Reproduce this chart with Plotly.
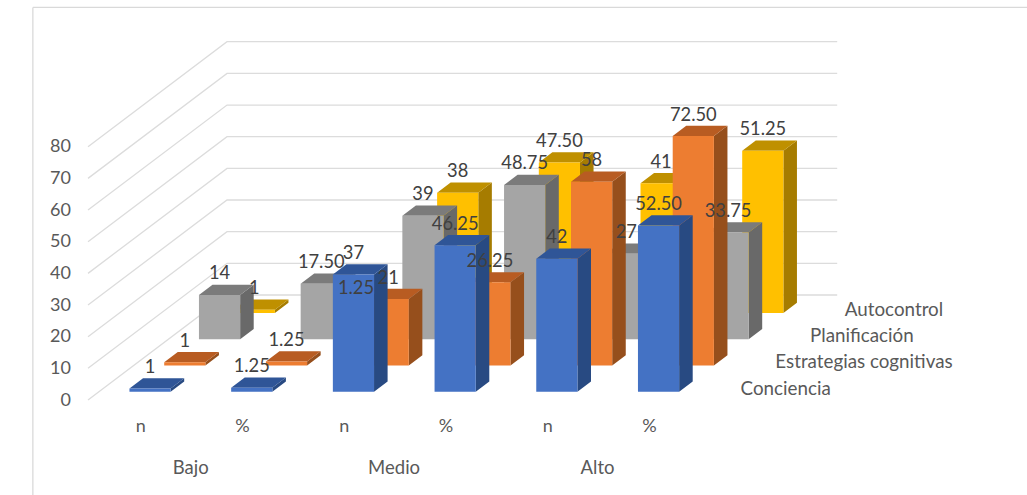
import plotly.graph_objects as go

# ---- data ----
items = ["n", "%", "n", "%", "n", "%"]
groups = ["Bajo", "Medio", "Alto"]
series_names = ["Conciencia", "Estrategias cognitivas", "Planificación", "Autocontrol"]
conciencia = [1, 1.25, 37, 46.25, 42, 52.50]
estrategias = [1, 1.25, 21, 26.25, 58, 72.50]
planificacion = [14, 17.50, 39, 48.75, 27, 33.75]
autocontrol = [1, 1.25, 38, 47.50, 41, 51.25]
y_ticks = [0, 10, 20, 30, 40, 50, 60, 70, 80]

# ---- styles ----
series_values = [conciencia, estrategias, planificacion, autocontrol]
face_colors = [
    ("#4472C4", "#2F5597", "#284A82"),
    ("#ED7D31", "#B85C22", "#964F1C"),
    ("#A5A5A5", "#7B7B7B", "#696969"),
    ("#FFC000", "#BF9000", "#A67C00"),
]
GRID = "#DCDCDC"
TEXT = "#595959"
FONT = "Lato"


def project(i, v, s):
    """Oblique 3D -> 2D axis units: i category slot, v value, s series depth."""
    return 88 + 101.7 * i + 34.75 * s, 400 - 3.166 * v - 26.25 * s


def poly(points):
    xs, ys = [], []
    for p in points:
        x, y = project(*p)
        xs.append(x)
        ys.append(y)
    xs.extend([xs[0], None])
    ys.extend([ys[0], None])
    return xs, ys


B0, B1 = 0.30, 0.705   # bar extent in a category slot
D0, D1 = 0.315, 0.705  # bar extent in a series slot

fig = go.Figure()

# walls' gridlines
gx, gy = [], []
for t in y_ticks:
    for p in [(0, t, 0), (0, t, 4), (6, t, 4)]:
        x, y = project(*p)
        gx.append(x)
        gy.append(y)
    gx.append(None)
    gy.append(None)
fig.add_trace(go.Scatter(x=gx, y=gy, mode="lines", line=dict(color=GRID, width=1.3)))

# bars, back series first
for s in range(3, -1, -1):
    front, top, side = ([], []), ([], []), ([], [])
    for i, v in enumerate(series_values[s]):
        z0, z1 = s + D0, s + D1
        a, b = i + B0, i + B1
        for store, pts in (
            (side, [(b, 0, z0), (b, 0, z1), (b, v, z1), (b, v, z0)]),
            (top, [(a, v, z0), (b, v, z0), (b, v, z1), (a, v, z1)]),
            (front, [(a, 0, z0), (b, 0, z0), (b, v, z0), (a, v, z0)]),
        ):
            xs, ys = poly(pts)
            store[0].extend(xs)
            store[1].extend(ys)
    col_f, col_t, col_s = face_colors[s]
    for store, col in ((side, col_s), (top, col_t), (front, col_f)):
        fig.add_trace(go.Scatter(x=store[0], y=store[1], mode="lines", fill="toself",
                                 fillcolor=col, line=dict(width=0, color=col)))

# data labels, drawn above all bars
lx, ly, lt = [], [], []
for s in range(3, -1, -1):
    for i, v in enumerate(series_values[s]):
        x, y = project(i + (B0 + B1) / 2, v, s + D0)
        lx.append(x)
        ly.append(y - 20)
        lt.append(f"{v:.2f}" if i % 2 else f"{v:g}")
fig.add_trace(go.Scatter(x=lx, y=ly, text=lt, mode="text", textposition="middle center",
                         textfont=dict(family=FONT, size=18.3, color="#404040")))

# y axis labels
tx, ty = zip(*[project(0, t, 0) for t in y_ticks])
fig.add_trace(go.Scatter(x=[x - 17 for x in tx], y=[y + 1 for y in ty], text=[str(t) for t in y_ticks],
                         mode="text", textposition="middle left",
                         textfont=dict(family=FONT, size=18, color=TEXT)))

# category labels
cx, cy = zip(*[project(i + 0.5, 0, 0) for i in range(len(items))])
fig.add_trace(go.Scatter(x=[x + 2 for x in cx], y=[y + 27 for y in cy], text=items, mode="text",
                         textposition="middle center",
                         textfont=dict(family=FONT, size=18, color=TEXT)))
gxs, gys = zip(*[project(2 * k + 1, 0, 0) for k in range(len(groups))])
fig.add_trace(go.Scatter(x=[x + 1 for x in gxs], y=[y + 69 for y in gys], text=groups, mode="text",
                         textposition="middle center",
                         textfont=dict(family=FONT, size=18.5, color=TEXT)))

# series labels
sx, sy = zip(*[project(6, 0, s + 0.5) for s in range(len(series_names))])
fig.add_trace(go.Scatter(x=[x + 25 for x in sx], y=[y + 3 for y in sy], text=series_names, mode="text",
                         textposition="middle right",
                         textfont=dict(family=FONT, size=18.8, color=TEXT)))

fig.update_layout(
    width=1027, height=495, margin=dict(l=0, r=0, t=0, b=0),
    paper_bgcolor="white", plot_bgcolor="white", showlegend=False, hovermode=False,
    xaxis=dict(range=[0, 1027], visible=False, fixedrange=True),
    yaxis=dict(range=[495, 0], visible=False, fixedrange=True),
    shapes=[
        dict(type="line", xref="paper", yref="paper", x0=0.032, x1=0.032, y0=0, y1=0.985,
             line=dict(color="#D9D9D9", width=1.3)),
        dict(type="line", xref="paper", yref="paper", x0=0.032, x1=1, y0=0.985, y1=0.985,
             line=dict(color="#D9D9D9", width=1.3)),
    ],
)
fig.write_html("out.html", config={"displayModeBar": False},
               post_script="document.body.style.margin='0';document.body.style.overflow='hidden';")
